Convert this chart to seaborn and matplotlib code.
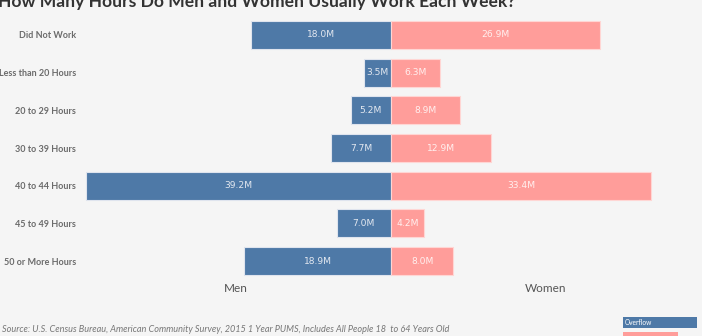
import matplotlib
matplotlib.use("Agg")
import matplotlib.pyplot as plt
import seaborn as sns
import pandas as pd
from matplotlib.patches import Rectangle

categories = ["Did Not Work", "Less than 20 Hours", "20 to 29 Hours", "30 to 39 Hours",
              "40 to 44 Hours", "45 to 49 Hours", "50 or More Hours"]
men = [18.0, 3.5, 5.2, 7.7, 39.2, 7.0, 18.9]
women = [26.9, 6.3, 8.9, 12.9, 33.4, 4.2, 8.0]

BLUE = "#4e79a7"
PINK = "#ff9d9a"
BG = "#f5f5f5"

sns.set_theme(style="white")
plt.rcParams['font.family'] = ['Lato', 'DejaVu Sans']

fig = plt.figure(figsize=(7.02, 3.36), dpi=100, facecolor=BG)
W, H = 702, 336
ax = fig.add_axes([80 / W, 1 - 280 / H, 620 / W, 264 / H])
ax.set_facecolor(BG)

df = pd.DataFrame({"cat": categories, "men": [-v for v in men], "women": women})
sns.barplot(data=df, x="men", y="cat", orient="h", color=BLUE, width=0.75,
            edgecolor="#dfe4ee", linewidth=0.8, saturation=1, ax=ax)
sns.barplot(data=df, x="women", y="cat", orient="h", color=PINK, width=0.75,
            edgecolor="#ffd6d4", linewidth=0.8, saturation=1, ax=ax)

scale = 7.78
ax.set_xlim(-(391 - 80) / scale, (700 - 391) / scale)
ax.set_ylim(6.504, -0.504)

for i, (m, w) in enumerate(zip(men, women)):
    ax.text(-m / 2, i, f"{m:.1f}M", ha="center", va="center", color="#e3e8f0",
            fontsize=6.6, family=['DejaVu Sans'])
    ax.text(w / 2, i, f"{w:.1f}M", ha="center", va="center", color="#fff0ef",
            fontsize=6.6, family=['DejaVu Sans'])

ax.set_yticks(range(len(categories)))
ax.set_yticklabels(categories, fontsize=6.5, fontweight="bold", color="#6b6b6b")
ax.tick_params(axis="y", length=0, pad=3)
ax.set_xticks([])
ax.set_xlabel("")
ax.set_ylabel("")
for s in ax.spines.values():
    s.set_visible(False)

fig.text(-2 / W, 1 - 7 / H, "How Many Hours Do Men and Women Usually Work Each Week?",
         fontsize=12.6, fontweight="bold", color="#333333", ha="left", va="baseline")
fig.text(236 / W, 1 - 289 / H, "Men", fontsize=8.5, color="#555555", ha="center", va="center")
fig.text(546 / W, 1 - 289 / H, "Women", fontsize=8.5, color="#555555", ha="center", va="center")
fig.text(2 / W, 1 - 329 / H,
         "Source: U.S. Census Bureau, American Community Survey, 2015 1 Year PUMS, Includes All People 18  to 64 Years Old",
         fontsize=6.6, style="italic", color="#777777", ha="left", va="center")

fig.patches.append(Rectangle((623 / W, 1 - 328 / H), 74 / W, 11 / H, transform=fig.transFigure,
                             facecolor=BLUE, edgecolor="none"))
fig.text(625 / W, 1 - 322.5 / H, "Overflow", fontsize=4.8, color="white", ha="left", va="center")
fig.patches.append(Rectangle((623 / W, 1 - 337 / H), 55 / W, 5 / H, transform=fig.transFigure,
                             facecolor=PINK, edgecolor="none"))

fig.savefig("out.png", dpi=100, facecolor=BG)
